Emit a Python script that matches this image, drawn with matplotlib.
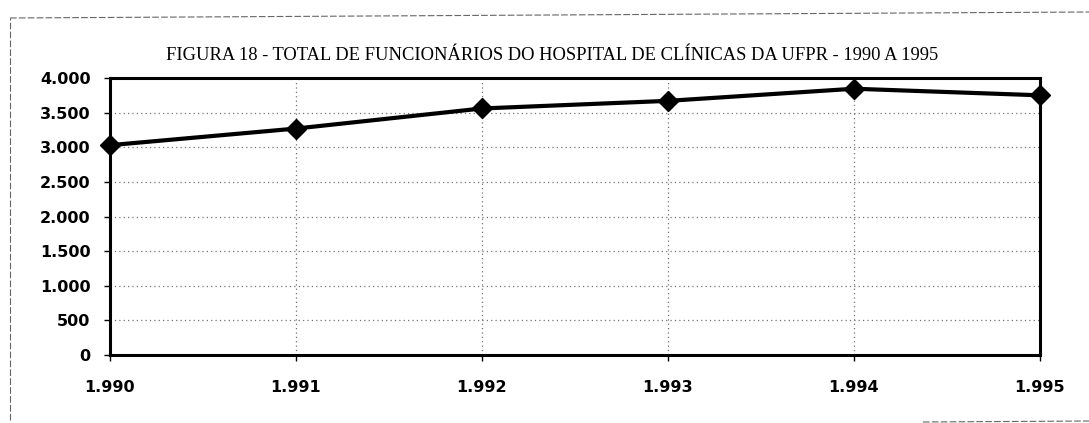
import matplotlib.pyplot as plt
from matplotlib.lines import Line2D
from matplotlib.ticker import FuncFormatter

# dados
anos = [1990, 1991, 1992, 1993, 1994, 1995]
rotulos_x = ["1.990", "1.991", "1.992", "1.993", "1.994", "1.995"]
funcionarios = [3030, 3270, 3560, 3670, 3845, 3750]
y_ticks = [0, 500, 1000, 1500, 2000, 2500, 3000, 3500, 4000]

titulo = "FIGURA 18 - TOTAL DE FUNCIONÁRIOS DO HOSPITAL DE CLÍNICAS DA UFPR - 1990 A 1995"

fig = plt.figure(figsize=(10.89, 4.23), dpi=100)
ax = fig.add_axes([110 / 1089, 1 - 355 / 423, 930 / 1089, 277 / 423])

ax.plot(anos, funcionarios, color="black", lw=3, marker="D", markersize=10,
        markerfacecolor="black", zorder=5, clip_on=False)

ax.set_xlim(1990, 1995)
ax.set_ylim(0, 4000)
ax.set_xticks(anos)
ax.set_xticklabels(rotulos_x)
ax.set_yticks(y_ticks)
ax.yaxis.set_major_formatter(FuncFormatter(lambda v, p: f"{int(v):,}".replace(",", ".")))

ax.grid(True, linestyle=(0, (1, 2.5)), color="0.45", lw=0.9)
for s in ax.spines.values():
    s.set_linewidth(2.2)
    s.set_color("black")

ax.tick_params(axis="x", direction="out", length=4, width=1, pad=14)
ax.tick_params(axis="y", direction="out", length=4, width=1, pad=10)
for lab in ax.get_xticklabels() + ax.get_yticklabels():
    lab.set_fontfamily("DejaVu Sans")
    lab.set_fontweight("bold")
    lab.set_fontsize(11.5)

fig.text(552 / 1089, 1 - 55 / 423, titulo, ha="center", va="center",
         family="Liberation Serif", fontsize=13.3)

# moldura tracejada do scan
borda = dict(color="0.4", lw=0.8, linestyle=(0, (6, 2)))
fig.add_artist(Line2D([10 / 1089, 10 / 1089], [1 - 420 / 423, 1 - 18 / 423], **borda))
fig.add_artist(Line2D([10 / 1089, 1.0], [1 - 18 / 423, 1 - 12 / 423], **borda))
fig.add_artist(Line2D([923 / 1089, 1.0], [1 - 422 / 423, 1 - 421 / 423], **borda))

fig.savefig("out.png", dpi=100)
